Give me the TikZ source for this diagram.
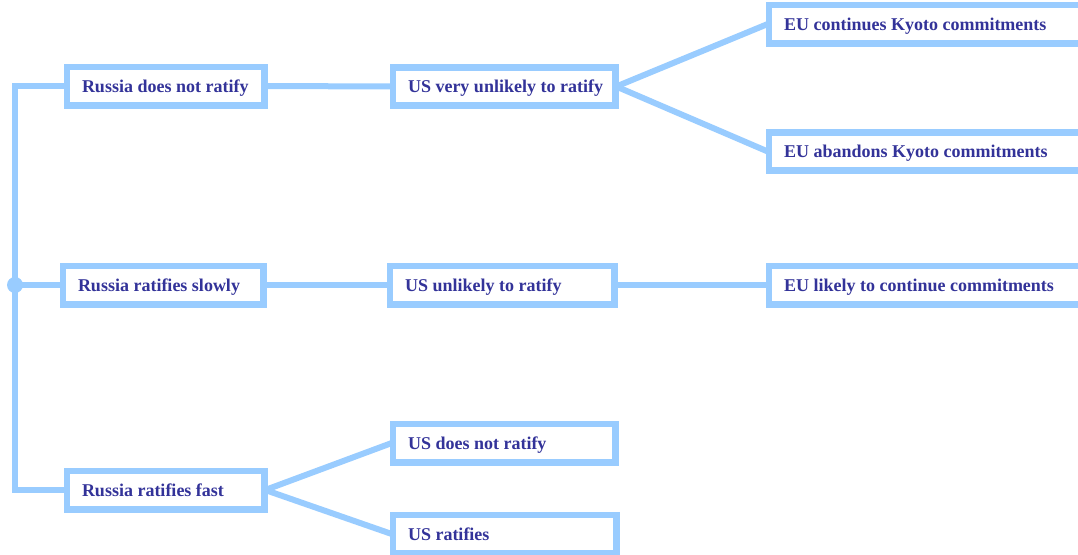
\documentclass[tikz,border=0pt]{standalone}
\usepackage{fontspec}
\setmainfont{Liberation Serif}
\definecolor{lb}{HTML}{99CCFF}
\definecolor{tb}{HTML}{333399}
\newcommand\fixw[2]{\makebox[#1][l]{#2}}
\begin{document}
\begin{tikzpicture}[x=1pt,y=-1pt,
  box/.style={draw=lb, line width=4.5pt, fill=white, minimum height=36pt,
    inner xsep=14pt, inner ysep=0pt, text=tb, text height=14pt, text depth=2pt,
    font=\fontsize{18}{21}\selectfont\bfseries},
  conn/.style={draw=lb, line width=6pt},
  trunk/.style={draw=lb, line width=5.5pt},
  frame/.style={draw=lb, line width=4.5pt}]
\useasboundingbox (0,0) rectangle (1078,554);
\clip (0,0) rectangle (1078,554);
\coordinate (ttop) at (15,86);
\coordinate (tbot) at (15,490);
\coordinate (tmid) at (15,285);
\node[box, minimum width=195pt] (r1) at (165.5,86) {\fixw{167pt}{Russia does not ratify}};
\node[box, minimum width=198pt] (r2) at (163,285) {\fixw{170pt}{Russia ratifies slowly}};
\node[box, minimum width=195pt] (r3) at (165.5,490) {\fixw{167pt}{Russia ratifies fast}};
\node[box, minimum width=220pt] (u1) at (504,86.5) {\fixw{192pt}{US very unlikely to ratify}};
\node[box, minimum width=222pt] (u2) at (502,285) {\fixw{194pt}{US unlikely to ratify}};
\node[box, minimum width=220pt] (u3) at (504,443) {\fixw{192pt}{US does not ratify}};
\node[box, minimum width=221pt] (u4) at (504.5,534) {\fixw{193pt}{US ratifies}};
\node[box, minimum width=330pt] (e1) at (935,24) {\fixw{302pt}{EU continues Kyoto commitments}};
\node[box, minimum width=330pt] (e2) at (935,151.5) {\fixw{302pt}{EU abandons Kyoto commitments}};
\node[box, minimum width=330pt] (e3) at (935,285) {\fixw{302pt}{EU likely to continue commitments}};
% connectors
\draw[trunk, line join=miter] (r1.west) -- (ttop) -- (tbot) -- (r3.west);
\draw[trunk] (tmid) -- (r2.west);
\fill[lb] (tmid) circle (8pt);
\draw[conn] (r1.east) -- (u1.west);
\draw[conn] (r2.east) -- (u2.west);
\draw[conn] (u2.east) -- (e3.west);
\draw[conn] (u1.east) -- (e1.west);
\draw[conn] (u1.east) -- (e2.west);
\draw[conn] (r3.east) -- (u3.west);
\draw[conn] (r3.east) -- (u4.west);
% box borders redrawn on top so connector ends tuck under them
\foreach \n in {r1,r2,r3,u1,u2,u3,u4,e1,e2,e3}{
  \draw[frame] (\n.north west) rectangle (\n.south east);
}
\end{tikzpicture}
\end{document}
